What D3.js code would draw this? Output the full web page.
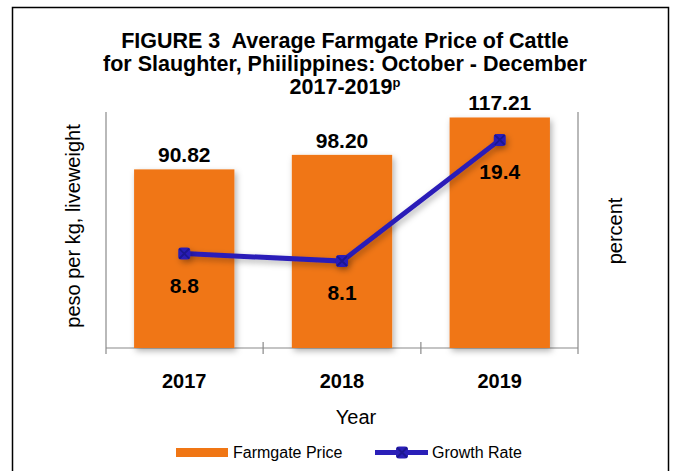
<!DOCTYPE html>
<html>
<head>
<meta charset="utf-8">
<script src="https://cdn.jsdelivr.net/npm/d3@7"></script>
<style>
	body { margin: 0; background: #fff; }
	svg { display: block; font-family: 'Liberation Sans', Arial, sans-serif; }
	.title { font-weight: bold; font-size: 21.5px; text-anchor: middle; white-space: pre; }
	.bar-label, .rate-label { font-weight: bold; font-size: 21px; text-anchor: middle; }
	.year { font-weight: bold; font-size: 20px; text-anchor: middle; }
	.axis-title { font-size: 20px; text-anchor: middle; }
	.legend { font-size: 16px; }
</style>
</head>
<body>
<svg width="673" height="471"></svg>
<script>
const years = ['2017', '2018', '2019'];
const prices = [90.82, 98.20, 117.21];
const growth = [8.8, 8.1, 19.4];
const titleLines = [
	'FIGURE 3  Average Farmgate Price of Cattle',
	'for Slaughter, Phiilippines: October - December'
];

const orange = '#f07614';
const blue = '#2a1fb8';
const axisGrey = '#8a8a8a';

const svg = d3.select('svg');

const plot = { left: 106, right: 578, top: 112, bottom: 348 };

const x = d3.scaleBand()
	.domain(years)
	.range([plot.left, plot.right])
	.paddingInner(0.364)
	.paddingOuter(0.178);

const yPrice = d3.scaleLinear().domain([0, 120]).range([plot.bottom, plot.top]);
const yRate = d3.scaleLinear().domain([0, 22]).range([plot.bottom, plot.top]);

const defs = svg.append('defs');
defs.append('filter')
	.attr('id', 'shadow')
	.attr('x', '-20%').attr('y', '-20%')
	.attr('width', '150%').attr('height', '150%')
	.append('feDropShadow')
	.attr('dx', 2).attr('dy', 3)
	.attr('stdDeviation', 3)
	.attr('flood-color', '#000')
	.attr('flood-opacity', 0.3);

// outer frame
svg.append('rect')
	.attr('x', 12.5).attr('y', 7.5)
	.attr('width', 656).attr('height', 490)
	.attr('fill', 'none')
	.attr('stroke', '#000')
	.attr('stroke-width', 1.5);

// title
titleLines.forEach((t, i) => {
	svg.append('text')
		.attr('class', 'title')
		.attr('x', 345)
		.attr('y', 48 + i * 23)
		.text(t);
});
const t3 = svg.append('text')
	.attr('class', 'title')
	.attr('x', 345)
	.attr('y', 94);
t3.append('tspan').text('2017-2019');
t3.append('tspan').text('p').attr('font-size', 13).attr('dy', -7);

// axes
const axes = svg.append('g').attr('stroke', axisGrey).attr('stroke-width', 1.2);
axes.append('line')
	.attr('x1', plot.left).attr('x2', plot.left)
	.attr('y1', plot.top).attr('y2', plot.bottom + 6);
axes.append('line')
	.attr('x1', plot.right).attr('x2', plot.right)
	.attr('y1', plot.top).attr('y2', plot.bottom + 6);
axes.append('line')
	.attr('x1', plot.left).attr('x2', plot.right)
	.attr('y1', plot.bottom).attr('y2', plot.bottom);

const bounds = years.slice(1).map((d) => x(d) - x.step() * x.paddingInner() / 2);
axes.selectAll('.sep')
	.data(bounds)
	.enter()
	.append('line')
	.attr('x1', (d) => d).attr('x2', (d) => d)
	.attr('y1', plot.bottom - 6).attr('y2', plot.bottom + 6);

// bars
svg.append('g')
	.selectAll('rect')
	.data(prices)
	.enter()
	.append('rect')
	.attr('x', (d, i) => x(years[i]))
	.attr('y', (d) => yPrice(d))
	.attr('width', x.bandwidth())
	.attr('height', (d) => plot.bottom - yPrice(d))
	.attr('fill', orange)
	.attr('filter', 'url(#shadow)');

svg.append('g')
	.selectAll('text')
	.data(prices)
	.enter()
	.append('text')
	.attr('class', 'bar-label')
	.attr('x', (d, i) => x(years[i]) + x.bandwidth() / 2)
	.attr('y', (d) => yPrice(d) - 7)
	.text((d) => d.toFixed(2));

// growth line
const cx = (i) => x(years[i]) + x.bandwidth() / 2;
const line = d3.line()
	.x((d, i) => cx(i))
	.y((d) => yRate(d));

svg.append('path')
	.datum(growth)
	.attr('d', line)
	.attr('fill', 'none')
	.attr('stroke', blue)
	.attr('stroke-width', 5)
	.attr('filter', 'url(#shadow)');

function marker(g, px, py) {
	g.append('rect')
		.attr('x', px - 6).attr('y', py - 6)
		.attr('width', 12).attr('height', 12)
		.attr('rx', 3)
		.attr('fill', blue);
	g.append('path')
		.attr('d', `M ${px - 5} ${py - 5} L ${px + 5} ${py + 5} M ${px - 5} ${py + 5} L ${px + 5} ${py - 5}`)
		.attr('stroke', '#1c1690')
		.attr('stroke-width', 2);
}

const markers = svg.append('g').attr('filter', 'url(#shadow)');
growth.forEach((d, i) => marker(markers, cx(i), yRate(d)));

svg.append('g')
	.selectAll('text')
	.data(growth)
	.enter()
	.append('text')
	.attr('class', 'rate-label')
	.attr('x', (d, i) => cx(i))
	.attr('y', (d) => yRate(d) + 39)
	.text((d) => d.toFixed(1));

// category labels
svg.append('g')
	.selectAll('text')
	.data(years)
	.enter()
	.append('text')
	.attr('class', 'year')
	.attr('x', (d) => x(d) + x.bandwidth() / 2)
	.attr('y', 388)
	.text((d) => d);

svg.append('text')
	.attr('class', 'axis-title')
	.attr('x', 356)
	.attr('y', 424)
	.text('Year');

svg.append('text')
	.attr('class', 'axis-title')
	.attr('font-size', 21)
	.attr('transform', 'translate(80, 226) rotate(-90)')
	.text('peso per kg, liveweight');

svg.append('text')
	.attr('class', 'axis-title')
	.attr('transform', 'translate(622, 231) rotate(-90)')
	.text('percent');

// legend
svg.append('rect')
	.attr('x', 176).attr('y', 448)
	.attr('width', 52).attr('height', 9)
	.attr('fill', orange);
svg.append('text')
	.attr('class', 'legend')
	.attr('x', 233).attr('y', 458)
	.text('Farmgate Price');

svg.append('line')
	.attr('x1', 375).attr('x2', 428)
	.attr('y1', 452.5).attr('y2', 452.5)
	.attr('stroke', blue)
	.attr('stroke-width', 5);
marker(svg.append('g'), 402, 452.5);
svg.append('text')
	.attr('class', 'legend')
	.attr('x', 432).attr('y', 458)
	.text('Growth Rate');
</script>
</body>
</html>
